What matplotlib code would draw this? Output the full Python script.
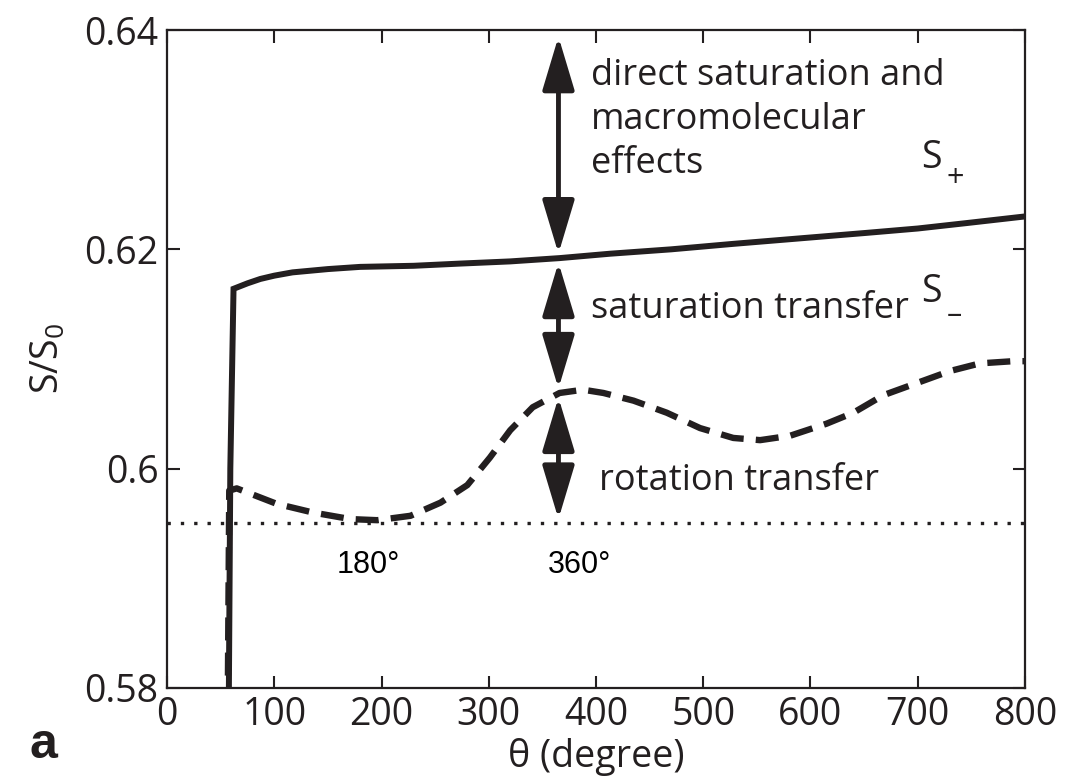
import matplotlib.pyplot as plt
from matplotlib.ticker import FixedLocator, FuncFormatter

plt.rcParams['font.family'] = ['Open Sans', 'DejaVu Sans']
plt.rcParams['mathtext.default'] = 'regular'

# S+ curve (solid)
theta_plus = [57, 59, 62, 75, 87, 100, 117, 150, 180, 230, 273, 320, 366, 413,
              470, 528, 590, 652, 700, 746, 800]
s_plus = [0.570, 0.600, 0.6164, 0.6169, 0.6173, 0.6176, 0.6179, 0.6182, 0.6184,
          0.6185, 0.6187, 0.6189, 0.6192, 0.6196, 0.6200, 0.6205, 0.6210,
          0.6215, 0.6219, 0.6224, 0.6230]

# S- curve (dashed)
theta_minus = [56, 58, 65, 102, 136, 171, 196, 227, 255, 280, 301, 320, 341,
               366, 388, 407, 435, 466, 497, 528, 553, 581, 615, 640, 668, 699,
               730, 758, 789, 800]
s_minus = [0.570, 0.5980, 0.5982, 0.5968, 0.5960, 0.5954, 0.5953, 0.5957,
           0.5969, 0.5985, 0.6010, 0.6035, 0.6056, 0.6069, 0.6072, 0.6069,
           0.6062, 0.6051, 0.6037, 0.6028, 0.6026, 0.6030, 0.6041, 0.6051,
           0.6067, 0.6078, 0.6089, 0.6096, 0.6098, 0.6098]

# reference level (dotted)
baseline_theta = [0, 800]
baseline = [0.595, 0.595]

arrow_theta = 365
arrow_levels = [0.6398, 0.6192, 0.6069, 0.5950]

direct_lines = ['direct saturation and', 'macromolecular', 'effects']
direct_y = [0.6358, 0.6318, 0.6278]

xticks = [0, 100, 200, 300, 400, 500, 600, 700, 800]
yticks = [0.58, 0.60, 0.62, 0.64]

tc = '#231f20'

fig = plt.figure(figsize=(10.66, 7.80), dpi=100)
ax = fig.add_axes([0.1567, 0.118, 0.8048, 0.8435])

ax.plot(theta_plus, s_plus, color=tc, lw=4.3, solid_joinstyle='miter')
ax.plot(theta_minus, s_minus, color=tc, lw=4.6, dashes=(3.6, 1.9))
ax.plot(baseline_theta, baseline, color=tc, lw=2.4, dashes=(1, 3.0))

# double arrows
for top, bot in zip(arrow_levels[:-1], arrow_levels[1:]):
    ax.annotate('', xy=(arrow_theta, bot + 0.0004), xytext=(arrow_theta, top - 0.0004),
                arrowprops=dict(arrowstyle='<|-|>,head_length=1.5,head_width=0.45',
                                color=tc, lw=3.5, mutation_scale=22,
                                shrinkA=0, shrinkB=0))

for line, yv in zip(direct_lines, direct_y):
    ax.text(395, yv, line, fontsize=26, color=tc, va='center', ha='left')
ax.text(395, 0.6146, 'saturation transfer', fontsize=26, color=tc, va='center')
ax.text(403, 0.5989, 'rotation transfer', fontsize=26, color=tc, va='center')
ax.text(703, 0.6283, 'S', fontsize=27, color=tc, va='center')
ax.text(727, 0.6264, '+', fontsize=22, color=tc, va='center')
ax.text(703, 0.6161, 'S', fontsize=27, color=tc, va='center')
ax.text(727, 0.6140, '\u2013', fontsize=22, color=tc, va='center')
ax.text(188, 0.5912, '180°', fontsize=22, family='Liberation Sans', ha='center', va='center')
ax.text(385, 0.5912, '360°', fontsize=22, family='Liberation Sans', ha='center', va='center')

ax.set_xlim(0, 800)
ax.set_ylim(0.58, 0.64)
ax.xaxis.set_major_locator(FixedLocator(xticks))
ax.yaxis.set_major_locator(FixedLocator(yticks))
ax.yaxis.set_major_formatter(FuncFormatter(lambda v, p: '%g' % round(v, 2)))
ax.tick_params(direction='in', length=9, width=1.5, top=True, right=True,
               labelsize=27, colors=tc, pad=6)
for sp in ax.spines.values():
    sp.set_linewidth(1.6)
    sp.set_color(tc)

ax.set_xlabel('θ (degree)', fontsize=27, color=tc, labelpad=3)
ax.set_ylabel('$S/S_0$', fontsize=27, color=tc, labelpad=12)

fig.text(0.028, 0.028, 'a', fontsize=36, fontweight='bold', family='Liberation Sans', color=tc)

fig.savefig('out.png', dpi=100)
